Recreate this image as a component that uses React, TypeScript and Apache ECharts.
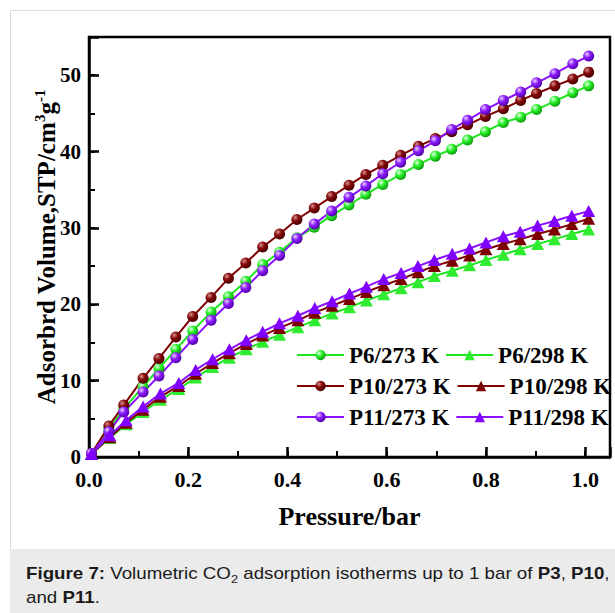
import { useEffect, useRef } from "react";
import * as echarts from "echarts";

// Pressures (bar) of the measured points
const pressure273 = [0.005, 0.040, 0.070, 0.109, 0.141, 0.175, 0.209, 0.246, 0.281, 0.316, 0.350, 0.384, 0.419, 0.454, 0.489, 0.524, 0.558, 0.592, 0.628, 0.664, 0.698, 0.731, 0.763, 0.799, 0.835, 0.870, 0.902, 0.939, 0.975, 1.007];
const pressure298 = [0.005, 0.042, 0.075, 0.109, 0.144, 0.181, 0.215, 0.249, 0.283, 0.317, 0.350, 0.384, 0.421, 0.455, 0.490, 0.525, 0.559, 0.594, 0.629, 0.663, 0.696, 0.732, 0.767, 0.800, 0.835, 0.869, 0.904, 0.938, 0.973, 1.007];

// Adsorbed volumes (cm3/g STP)
const p6At273 = [0.45, 3.6, 6.3, 9.2, 11.6, 14.1, 16.5, 19.0, 21.0, 23.0, 25.2, 26.8, 28.7, 30.1, 31.6, 33.0, 34.4, 35.7, 37.0, 38.3, 39.4, 40.3, 41.5, 42.6, 43.8, 44.5, 45.5, 46.6, 47.7, 48.6];
const p6At298 = [0.4, 2.5, 4.3, 5.9, 7.5, 8.9, 10.4, 11.8, 13.0, 14.1, 15.1, 16.0, 17.0, 17.9, 18.8, 19.6, 20.5, 21.3, 22.1, 22.9, 23.7, 24.4, 25.1, 25.8, 26.5, 27.2, 27.9, 28.5, 29.2, 29.8];
const p10At273 = [0.45, 4.07, 6.8, 10.3, 12.9, 15.7, 18.4, 20.9, 23.4, 25.4, 27.5, 29.2, 31.1, 32.6, 34.1, 35.6, 37.0, 38.2, 39.5, 40.7, 41.7, 42.6, 43.5, 44.6, 45.6, 46.7, 47.6, 48.6, 49.5, 50.4];
const p10At298 = [0.4, 2.6, 4.5, 6.2, 7.9, 9.3, 10.9, 12.3, 13.6, 14.8, 15.9, 16.9, 17.9, 18.9, 19.8, 20.7, 21.6, 22.5, 23.3, 24.2, 25.0, 25.7, 26.4, 27.2, 27.9, 28.5, 29.2, 29.8, 30.5, 31.2];
const p11At273 = [0.45, 3.3, 5.9, 8.5, 10.6, 13.0, 15.4, 17.9, 20.1, 22.2, 24.4, 26.4, 28.6, 30.5, 32.2, 34.0, 35.5, 37.1, 38.6, 40.1, 41.4, 42.9, 44.1, 45.5, 46.7, 47.8, 49.0, 50.2, 51.5, 52.5];
const p11At298 = [0.4, 2.85, 4.8, 6.6, 8.3, 9.7, 11.4, 12.8, 14.1, 15.3, 16.4, 17.5, 18.5, 19.5, 20.4, 21.4, 22.3, 23.3, 24.1, 25.0, 25.8, 26.6, 27.3, 28.1, 28.9, 29.5, 30.3, 30.9, 31.6, 32.2];

const seriesNames = ["P6/273 K", "P6/298 K", "P10/273 K", "P10/298 K", "P11/273 K", "P11/298 K"];

const xMin = 0;
const xMax = 1.05;
const yMin = 0;
const yMax = 55;

const SERIF = '"Liberation Serif", "Times New Roman", serif';
const SANS = '"Liberation Sans", Arial, sans-serif';

function ball(light: string, base: string, dark: string) {
  return {
    type: "radial",
    x: 0.35,
    y: 0.32,
    r: 0.7,
    colorStops: [
      { offset: 0, color: light },
      { offset: 0.45, color: base },
      { offset: 1, color: dark },
    ],
  };
}

export default function App() {
  const ref = useRef<HTMLDivElement>(null);

  useEffect(() => {
    const chart = echarts.init(ref.current!, null, { renderer: "svg" });
    const pairs = (xs: number[], ys: number[]) => xs.map((x, i) => [x, ys[i]]);

    const mk = (name: string, xs: number[], ys: number[], kind: string, line: string, fill: any) => ({
      name,
      type: "line",
      xAxisIndex: 0,
      yAxisIndex: 0,
      data: pairs(xs, ys),
      symbol: kind,
      symbolSize: kind === "circle" ? 11 : [13, 12],
      showSymbol: true,
      showAllSymbol: true,
      lineStyle: { color: line, width: 2 },
      itemStyle: { color: fill },
      emphasis: { disabled: true },
      silent: true,
    });

    const green = "#1ee61e";
    const maroon = "#800000";
    const purple = "#8a10ff";

    chart.setOption({
      animation: false,
      backgroundColor: "#fff",
      grid: {
        left: 89,
        top: 37,
        right: 5,
        bottom: 156,
        show: true,
        borderColor: "#000",
        borderWidth: 2.5,
        backgroundColor: "transparent",
        containLabel: false,
        outerBoundsMode: "none",
      },
      legend: {
        data: seriesNames,
        left: 291,
        top: 337.5,
        width: 330,
        orient: "horizontal",
        itemWidth: 47,
        itemHeight: 13,
        itemGap: 6,
        selectedMode: false,
        textStyle: {
          fontFamily: SERIF,
          fontWeight: "bold",
          fontSize: 23,
          color: "#000",
          lineHeight: 25,
        },
      },
      xAxis: [
        {
          type: "value",
          min: xMin,
          max: xMax,
          interval: 0.2,
          position: "bottom",
          axisLine: { show: true, onZero: false, lineStyle: { color: "#000", width: 2.5 } },
          axisTick: { show: true, inside: true, length: 10, lineStyle: { color: "#000", width: 2.5 } },
          axisLabel: {
            fontFamily: SERIF,
            fontWeight: "bold",
            fontSize: 22,
            color: "#000",
            margin: 12,
            lineHeight: 20,
            formatter: (v: number) => {
              const r = Math.round(v * 10);
              return r % 2 === 0 && v <= 1.0001 ? v.toFixed(1) : "";
            },
          },
          splitLine: { show: false },
          name: "Pressure/bar",
          nameLocation: "middle",
          nameGap: 46,
          nameMoveOverlap: false,
          nameTextStyle: { fontFamily: SERIF, fontWeight: "bold", fontSize: 26, color: "#000" },
        },
        {
          type: "value",
          min: xMin,
          max: xMax,
          interval: 0.1,
          position: "bottom",
          axisLine: { show: false, onZero: false },
          axisTick: { show: true, inside: true, length: 6, lineStyle: { color: "#000", width: 2 } },
          axisLabel: { show: false },
          splitLine: { show: false },
        },
      ],
      yAxis: [
        {
          type: "value",
          min: yMin,
          max: yMax,
          interval: 10,
          position: "left",
          axisLine: { show: true, onZero: false, lineStyle: { color: "#000", width: 2.5 } },
          axisTick: { show: true, inside: true, length: 10, lineStyle: { color: "#000", width: 2.5 } },
          axisLabel: {
            fontFamily: SERIF,
            fontWeight: "bold",
            fontSize: 21,
            color: "#000",
            margin: 8,
            lineHeight: 17,
            formatter: (v: number) => (Math.round(v) % 10 === 0 && v <= 50 ? String(Math.round(v)) : ""),
          },
          splitLine: { show: false },
          name: "{m|Adsorbrd Volume,STP/cm}{u|3}{m|g}{u|-1}",
          nameLocation: "middle",
          nameRotate: 90,
          nameGap: 28,
          nameMoveOverlap: false,
          nameTextStyle: {
            fontFamily: SERIF,
            fontWeight: "bold",
            fontSize: 25,
            color: "#000",
            rich: {
              m: { fontFamily: SERIF, fontWeight: "bold", fontSize: 25, lineHeight: 29, color: "#000" },
              u: { fontFamily: SERIF, fontWeight: "bold", fontSize: 15, lineHeight: 12, verticalAlign: "top", color: "#000" },
            },
          },
        },
        {
          type: "value",
          min: yMin,
          max: yMax,
          interval: 5,
          position: "left",
          axisLine: { show: false, onZero: false },
          axisTick: { show: true, inside: true, length: 6, lineStyle: { color: "#000", width: 2 } },
          axisLabel: { show: false },
          splitLine: { show: false },
        },
      ],
      series: [
        mk(seriesNames[0], pressure273, p6At273, "circle", green, ball("#e6ffe6", "#2cf02c", "#0c9c0c")),
        mk(seriesNames[1], pressure298, p6At298, "triangle", green, "#30ec30"),
        mk(seriesNames[2], pressure273, p10At273, "circle", maroon, ball("#d89090", "#850808", "#4a0000")),
        mk(seriesNames[3], pressure298, p10At298, "triangle", maroon, "#7c0000"),
        mk(seriesNames[4], pressure273, p11At273, "circle", purple, ball("#e8d0ff", "#8c1cff", "#5200a8")),
        mk(seriesNames[5], pressure298, p11At298, "triangle", purple, "#8000ff"),
      ],
      graphic: [
        {
          type: "rect",
          z: -10,
          silent: true,
          shape: { x: 10.5, y: 10.5, width: 660, height: 660 },
          style: { fill: "none", stroke: "#dcdcdc", lineWidth: 1 },
        },
        {
          type: "rect",
          z: -9,
          silent: true,
          shape: { x: 10, y: 549, width: 610, height: 70 },
          style: { fill: "#ebebeb" },
        },
        {
          type: "text",
          z: 10,
          silent: true,
          x: 26,
          y: 561,
          scaleX: 1.17,
          style: {
            text:
              "{b|Figure 7:}{n| Volumetric CO}{s|2}{n| adsorption isotherms up to 1 bar of }{b|P3}{n|, }{b|P10}{n|,}\n{n|and }{b|P11}{n|.}",
            verticalAlign: "top",
            align: "left",
            rich: {
              b: { fontFamily: SANS, fontWeight: "bold", fontSize: 16, lineHeight: 24, fill: "#1a1a1a" },
              n: { fontFamily: SANS, fontWeight: "normal", fontSize: 16, lineHeight: 24, fill: "#1a1a1a" },
              s: { fontFamily: SANS, fontWeight: "normal", fontSize: 11, lineHeight: 13, verticalAlign: "bottom", fill: "#1a1a1a" },
            },
          },
        },
      ],
    });

    return () => chart.dispose();
  }, []);

  return (
    <div
      ref={ref}
      style={{ position: "fixed", left: 0, top: 0, width: 615, height: 613 }}
    />
  );
}
